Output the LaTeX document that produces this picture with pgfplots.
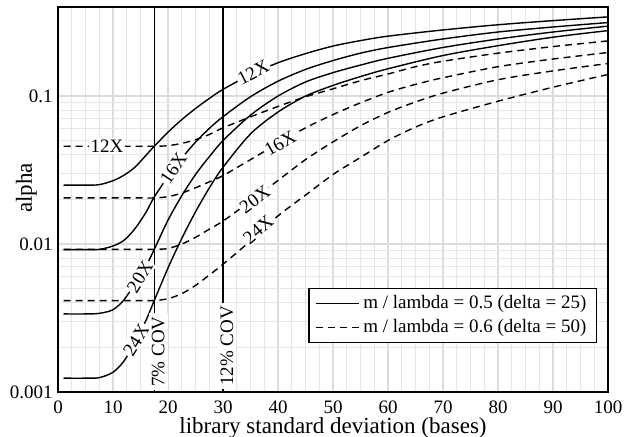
\documentclass[border=0pt]{standalone}
\usepackage{pgfplots}
\pgfplotsset{compat=1.18}
\usepackage{fontspec}
\setmainfont{Liberation Serif}
\begin{document}
\begin{tikzpicture}
\begin{axis}[
  scale only axis,
  width=275pt, height=192.5pt,
  xmin=0, xmax=100,
  ymode=log, ymin=0.001, ymax=0.4,
  xtick={0,10,...,100},
  minor x tick num=3,
  ytick={0.001,0.01,0.1},
  yticklabels={0.001,0.01,0.1},
  grid=both,
  major grid style={line width=1pt, color=black!14},
  minor grid style={line width=0.5pt, color=black!10},
  tick style={draw=none},
  axis line style={line width=0.9pt},
  /pgf/number format/assume math mode=true,
  tick label style={font=\fontsize{9.5}{11}\selectfont},
  xticklabel style={inner sep=0pt, yshift=-4pt},
  yticklabel style={inner sep=0pt, xshift=-2.5pt},
  xlabel={library standard deviation (bases)},
  ylabel={alpha},
  label style={font=\fontsize{11.5}{13}\selectfont},
  xlabel style={at={(axis description cs:0.5,0)}, anchor=north, inner sep=0pt, yshift=-12.5pt},
  ylabel style={at={(axis description cs:-0.038,0.53)}, anchor=south, inner sep=0pt},
  legend style={at={(rel axis cs:0.98,0.127)}, anchor=south east, draw=black, line width=0.6pt,
    fill=white, font=\fontsize{9.5}{11}\selectfont, inner xsep=3pt, inner ysep=1.5pt,
    cells={anchor=west}},
  legend image code/.code={\draw[#1, line width=0.7pt] (0pt,0pt) -- (21.5pt,0pt);},
  sol/.style={black, no markers, solid, line width=0.7pt, smooth, tension=0.5},
  das/.style={black, no markers, line width=0.7pt, smooth, tension=0.5, dash pattern=on 3.5pt off 2.5pt},
]
\coordinate (O) at (rel axis cs:0,0);
% solid 12X
\addplot[sol] coordinates {(1,0.0250) (5,0.0250) (7.5,0.0252) (10,0.0268) (12,0.0292) (14,0.0331) (16,0.0398) (17.5,0.0458) (20,0.057) (22.5,0.0693) (25,0.0824) (27.5,0.0963) (30,0.111) (35,0.1396) (40,0.168) (45,0.1936) (50,0.2178) (55,0.2371) (60,0.2541) (70,0.2799) (80,0.3034) (90,0.3236) (100,0.343)};
\addlegendentry{m / lambda = 0.5 (delta = 25)}
% dashed 12X
\addplot[das] coordinates {(1,0.0458) (5,0.0458) (10,0.0458) (15,0.0458) (17.5,0.0458) (20,0.0462) (22.5,0.0479) (25,0.0507) (27.5,0.055) (30,0.061) (35,0.0724) (40,0.0851) (45,0.0989) (50,0.112) (55,0.127) (60,0.141) (65,0.158) (70,0.172) (80,0.195) (90,0.216) (100,0.236)};
\addlegendentry{m / lambda = 0.6 (delta = 50)}
% solid 16X
\addplot[sol, forget plot] coordinates {(1,0.00916) (5,0.00916) (7.5,0.0092) (10,0.0097) (12,0.0106) (14,0.0127) (16,0.0164) (17.5,0.0208) (20,0.0286) (22.5,0.038) (25,0.0488) (27.5,0.0604) (30,0.0725) (35,0.099) (40,0.126) (45,0.1514) (50,0.1738) (55,0.195) (60,0.2128) (70,0.2432) (80,0.271) (90,0.293) (100,0.314)};
% solid 20X
\addplot[sol, forget plot] coordinates {(1,0.00337) (5,0.00337) (7.5,0.0034) (10,0.0036) (12,0.0042) (14,0.0054) (16,0.0071) (17.5,0.0092) (20,0.0145) (22.5,0.0212) (25,0.0295) (27.5,0.0389) (30,0.050) (35,0.0743) (40,0.100) (45,0.1245) (50,0.144) (55,0.162) (60,0.180) (70,0.213) (80,0.243) (90,0.271) (100,0.297)};
% solid 24X
\addplot[sol, forget plot] coordinates {(1,0.00124) (5,0.00124) (7.5,0.00125) (10,0.00136) (12,0.00162) (14,0.00219) (16,0.00305) (17.5,0.00415) (20,0.00689) (22.5,0.0109) (25,0.0165) (27.5,0.0239) (30,0.033) (35,0.0555) (40,0.078) (45,0.100) (50,0.118) (55,0.1355) (60,0.153) (70,0.188) (80,0.219) (90,0.250) (100,0.277)};
% dashed 16X
\addplot[das, forget plot] coordinates {(1,0.0205) (5,0.0205) (10,0.0205) (15,0.0205) (17.5,0.0205) (20,0.0209) (22.5,0.0221) (25,0.024) (27.5,0.0263) (30,0.029) (35,0.0372) (40,0.0479) (45,0.061) (50,0.075) (55,0.090) (60,0.106) (65,0.120) (70,0.133) (80,0.158) (90,0.178) (100,0.197)};
% dashed 20X
\addplot[das, forget plot] coordinates {(1,0.0092) (5,0.0092) (10,0.0092) (15,0.0092) (17.5,0.0092) (20,0.00933) (22.5,0.0100) (25,0.0111) (27.5,0.0126) (30,0.0143) (35,0.0195) (40,0.0269) (45,0.0372) (50,0.049) (55,0.063) (60,0.0776) (65,0.0912) (70,0.1047) (80,0.129) (90,0.148) (100,0.166)};
% dashed 24X
\addplot[das, forget plot] coordinates {(1,0.00415) (5,0.00415) (10,0.00415) (15,0.00415) (17.5,0.00415) (20,0.00427) (22.5,0.00462) (25,0.00525) (27.5,0.00617) (30,0.0073) (35,0.0105) (40,0.0155) (45,0.0214) (50,0.0295) (55,0.0385) (60,0.0501) (65,0.0617) (70,0.0724) (80,0.0923) (90,0.1148) (100,0.14)};
% COV lines
\addplot[black, no markers, line width=0.7pt, forget plot] coordinates {(17.5,0.001) (17.5,0.4)};
\addplot[black, no markers, line width=0.7pt, forget plot] coordinates {(30,0.001) (30,0.4)};
% labels
\begin{scope}[every node/.style={fill=white, inner sep=0.8pt, font=\fontsize{9.5}{11}\selectfont}]
\node[rotate=27] at (axis cs:35.5,0.1447) {12X};
\node at (axis cs:8.9,0.0458) {12X};
\node[rotate=56] at (axis cs:21,0.0325) {16X};
\node[rotate=30] at (axis cs:40.4,0.048) {16X};
\node[rotate=58] at (axis cs:14.9,0.006) {20X};
\node[rotate=36] at (axis cs:35.8,0.02) {20X};
\node[rotate=58] at (axis cs:14.2,0.00225) {24X};
\node[rotate=41] at (axis cs:36.4,0.0125) {24X};
\node[rotate=90, anchor=north west, inner sep=1.5pt, xshift=1pt, yshift=3pt] at (axis cs:17.5,0.001) {7\% COV};
\node[rotate=90, anchor=north west, inner sep=1.5pt, xshift=1.5pt, yshift=3pt] at (axis cs:30,0.001) {12\% COV};
\end{scope}
\end{axis}
\pgfresetboundingbox
\path (O) ++(-29pt,-22.5pt) rectangle ++(315.5pt,218.5pt);
\end{tikzpicture}
\end{document}
